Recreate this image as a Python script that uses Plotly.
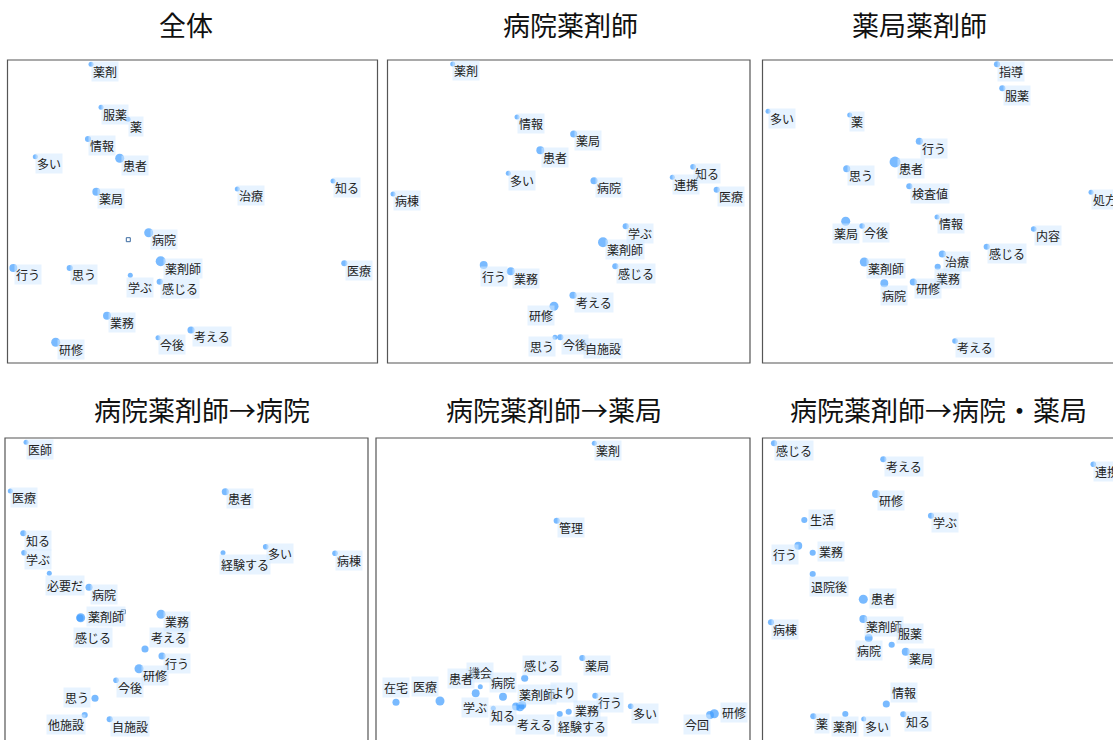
import plotly.graph_objects as go

FIG_W, FIG_H = 1113, 740

# ---------------- data ----------------
titles = ["全体", "病院薬剤師", "薬局薬剤師",
          "病院薬剤師→病院", "病院薬剤師→薬局", "病院薬剤師→病院・薬局"]

# Panel 1: 全体
words1 = ["薬剤", "服薬", "薬", "情報", "多い", "患者", "薬局", "治療", "知る", "病院",
          "薬剤師", "医療", "行う", "思う", "学ぶ", "感じる", "業務", "考える", "今後", "研修"]
x1 = [83.5, 93.5, 120.5, 80.5, 27.8, 112.2, 88.8, 229.8, 325.5, 141.2,
      153.2, 336.8, 5.8, 62.2, 122.8, 152.2, 99.5, 183.5, 150.5, 48.2]
y1 = [298.7, 255.7, 243.7, 224.0, 206.3, 204.7, 171.3, 174.0, 182.0, 130.3,
      101.7, 99.7, 95.0, 95.0, 87.7, 81.3, 47.3, 33.0, 25.3, 20.7]
freq1 = [4, 4, 4, 6, 4, 13, 10, 4, 4, 13, 16, 6, 10, 6, 4, 6, 10, 8, 4, 13]

# Panel 2: 病院薬剤師
words2 = ["薬剤", "情報", "薬局", "患者", "多い", "病院", "知る", "連携", "医療", "病棟",
          "学ぶ", "薬剤師", "感じる", "行う", "業務", "考える", "研修", "思う", "今後", "自施設"]
x2 = [65.2, 129.5, 186.2, 152.8, 120.8, 206.5, 305.5, 284.8, 329.2, 5.5,
      238.2, 215.5, 227.8, 96.2, 123.2, 185.5, 166.5, 167.5, 172.8, 195.5]
y2 = [299.0, 246.0, 229.0, 212.7, 189.7, 182.3, 196.3, 185.7, 173.3, 169.0,
      136.7, 120.7, 96.7, 98.0, 91.7, 67.7, 56.7, 25.7, 25.7, 21.3]
freq2 = [4, 4, 8, 10, 4, 8, 5, 4, 6, 4, 6, 16, 6, 10, 10, 8, 13, 4, 6, 4]

# Panel 3: 薬局薬剤師
words3 = ["指導", "服薬", "多い", "薬", "行う", "患者", "思う", "検査値", "処方", "情報",
          "内容", "薬局", "今後", "感じる", "治療", "薬剤師", "業務", "病院", "研修", "考える"]
x3 = [234.5, 239.8, 5.5, 87.2, 156.8, 132.5, 84.2, 146.8, 328.5, 174.5,
      271.2, 83.2, 99.5, 224.2, 179.8, 101.8, 175.2, 121.8, 150.8, 192.5]
y3 = [298.7, 274.7, 251.7, 248.0, 221.7, 201.0, 194.3, 176.7, 170.7, 146.0,
      134.0, 141.7, 137.0, 116.3, 109.0, 101.0, 96.3, 79.7, 81.0, 22.0]
freq3 = [6, 6, 4, 4, 8, 19, 8, 6, 4, 4, 5, 13, 5, 6, 8, 13, 6, 10, 8, 5]

# Panel 4: 病院薬剤師→病院
words4 = ["医師", "医療", "患者", "知る", "学ぶ", "経験する", "多い", "病棟", "必要だ", "病院",
          "感じる", "薬剤師", "業務", "考える", "行う", "研修", "今後", "思う", "他施設", "自施設"]
x4 = [21.0, 5.3, 220.3, 18.3, 19.0, 218.0, 260.7, 330.0, 44.3, 84.0,
      75.0, 75.7, 156.0, 140.0, 157.0, 134.0, 111.0, 90.0, 79.7, 104.7]
y4 = [297.7, 249.0, 248.3, 206.7, 187.3, 187.3, 193.3, 186.7, 166.7, 152.7,
      122.0, 122.3, 125.7, 91.0, 84.0, 71.3, 59.7, 41.7, 25.0, 20.7]
freq4 = [4, 4, 8, 6, 5, 4, 5, 5, 4, 8, 8, 13, 13, 8, 8, 13, 5, 8, 6, 6]

# Panel 5: 病院薬剤師→薬局
words5 = ["薬剤", "管理", "薬局", "感じる", "機会", "患者", "病院", "在宅", "医療", "知る",
          "薬剤師", "考える", "より", "学ぶ", "行う", "業務", "経験する", "多い", "研修", "今回"]
x5 = [218.3, 180.7, 206.3, 148.7, 104.3, 99.7, 127.0, 20.0, 64.0, 140.0,
      144.0, 146.3, 170.7, 117.3, 219.3, 192.7, 183.7, 254.7, 338.3, 334.0]
y5 = [296.7, 219.3, 82.0, 61.7, 53.3, 46.7, 43.3, 37.7, 39.0, 33.5,
      33.3, 35.0, 46.7, 31.7, 44.3, 28.3, 26.0, 33.7, 26.3, 25.0]
freq5 = [4, 6, 6, 8, 4, 10, 10, 8, 13, 10, 13, 10, 4, 4, 6, 6, 6, 5, 13, 10]

# Panel 6: 病院薬剤師→病院・薬局
words6 = ["感じる", "考える", "連携", "研修", "生活", "学ぶ", "行う", "業務", "退院後", "患者",
          "病棟", "薬剤師", "服薬", "病院", "薬局", "情報", "薬", "薬剤", "多い", "知る"]
x6 = [11.5, 120.8, 330.8, 113.5, 41.8, 168.5, 35.8, 50.2, 50.2, 100.8,
      8.5, 100.8, 129.2, 106.2, 143.2, 123.8, 50.8, 82.8, 101.2, 140.8]
y6 = [296.7, 280.7, 275.7, 246.0, 220.0, 224.3, 194.3, 187.3, 166.0, 140.7,
      117.7, 121.0, 95.3, 102.0, 88.3, 36.0, 23.7, 26.0, 21.0, 25.7]
freq6 = [6, 6, 5, 10, 6, 6, 10, 6, 6, 13, 6, 10, 6, 10, 10, 8, 6, 6, 4, 6]

# small hollow square marks (panels 1 and 4)
sq_panel = [1, 4]
sq_x = [120.8, 118.3]
sq_y = [123.3, 128.3]

# ---------------- label placement (style) ----------------
place_overrides = {
    1: {"学ぶ": "b"},
    2: {"行う": "b", "研修": "bl", "思う": "bl"},
    3: {"薬局": "bc", "業務": "b", "病院": "b"},
    4: {"経験する": "b", "必要だ": "b", "薬剤師": "r", "感じる": "bb",
        "考える": "ar", "思う": "l", "他施設": "bl"},
    5: {"感じる": "a", "機会": "ac", "患者": "al", "病院": "ac", "在宅": "ac",
        "医療": "al", "薬剤師": "a", "より": "r", "学ぶ": "l", "知る": "bl",
        "考える": "bb", "業務": "r", "経験する": "b", "研修": "r", "今回": "bl"},
    6: {"生活": "r", "行う": "bl", "業務": "r", "退院後": "b", "患者": "r",
        "服薬": "ar", "病院": "bc", "情報": "ar", "薬剤": "bc"},
}

SIZEREF = 0.32


def diam(f):
    return 2 * (f / 2 / SIZEREF) ** 0.5


def placement(code, d):
    if code == "br":
        return dict(xanchor="left", yanchor="top", xshift=0.45 * d - 2.5, yshift=3.5)
    if code == "r":
        return dict(xanchor="left", yanchor="middle", xshift=d / 2 + 1.0, yshift=1)
    if code == "b":
        return dict(xanchor="left", yanchor="top", xshift=-4, yshift=-1.5)
    if code == "bc":
        return dict(xanchor="center", yanchor="top", xshift=0, yshift=-1.5)
    if code == "bb":
        return dict(xanchor="left", yanchor="top", xshift=-7, yshift=-8.5)
    if code == "bl":
        return dict(xanchor="right", yanchor="top", xshift=1, yshift=1.5)
    if code == "l":
        return dict(xanchor="right", yanchor="middle", xshift=-4, yshift=1)
    if code == "a":
        return dict(xanchor="left", yanchor="bottom", xshift=-3, yshift=2)
    if code == "ac":
        return dict(xanchor="center", yanchor="bottom", xshift=0, yshift=4)
    if code == "al":
        return dict(xanchor="right", yanchor="bottom", xshift=-1, yshift=4)
    if code == "ar":
        return dict(xanchor="left", yanchor="bottom", xshift=4, yshift=1)
    return dict(xanchor="left", yanchor="top")


# ---------------- layout (pixel geometry) ----------------
# (left, top, right, bottom) pixel boxes of panels; some extend past the view
boxes = [
    (7.5, 60, 377.5, 363),
    (387.5, 60, 750, 363),
    (762.5, 60, 1140, 363),
    (5, 438, 368, 760),
    (376, 438, 750, 760),
    (762.5, 438, 1140, 760),
]
title_pos = [(185.5, 25), (570.5, 25), (919.5, 25),
             (201.5, 409), (553.5, 409), (938, 409)]

panels = [
    (words1, x1, y1, freq1),
    (words2, x2, y2, freq2),
    (words3, x3, y3, freq3),
    (words4, x4, y4, freq4),
    (words5, x5, y5, freq5),
    (words6, x6, y6, freq6),
]

MARKER_COLOR = "#409dff"
LABEL_BG = "rgba(212,233,255,0.55)"
FONT = "Noto Sans CJK JP"

fig = go.Figure()
annotations = []
shapes = []
layout_axes = {}

for i, (words, xs, ys, fr) in enumerate(panels):
    n = i + 1
    L, T, R, B = boxes[i]
    vis_r = min(R, FIG_W)
    vis_b = min(B, FIG_H)
    xdom = [L / FIG_W, vis_r / FIG_W]
    ydom = [(FIG_H - vis_b) / FIG_H, (FIG_H - T) / FIG_H]
    xname = "xaxis" if n == 1 else f"xaxis{n}"
    yname = "yaxis" if n == 1 else f"yaxis{n}"
    xr = "x" if n == 1 else f"x{n}"
    yr = "y" if n == 1 else f"y{n}"
    layout_axes[xname] = dict(domain=xdom, range=[0, vis_r - L], visible=False,
                              fixedrange=True, anchor=yr)
    # y data measured from the panel's bottom reference (363 for top row, 740 for bottom row)
    ybase = 363 if i < 3 else 740
    layout_axes[yname] = dict(domain=ydom, range=[ybase - vis_b, ybase - T], visible=False,
                              fixedrange=True, anchor=xr)

    fig.add_trace(go.Scatter(
        x=xs, y=ys, mode="markers", xaxis=xr, yaxis=yr,
        marker=dict(size=fr, sizemode="area", sizeref=SIZEREF, color=MARKER_COLOR,
                    line=dict(width=0)),
        text=words, hoverinfo="text", showlegend=False, cliponaxis=False,
    ))

    sx = [sq_x[k] for k in range(len(sq_panel)) if sq_panel[k] == n]
    sy = [sq_y[k] for k in range(len(sq_panel)) if sq_panel[k] == n]
    if sx:
        fig.add_trace(go.Scatter(
            x=sx, y=sy, mode="markers", xaxis=xr, yaxis=yr,
            marker=dict(symbol="square-open", size=4, color="#3b6aa0",
                        line=dict(width=1, color="#3b6aa0")),
            hoverinfo="skip", showlegend=False,
        ))

    ov = place_overrides.get(n, {})
    for w, xv, yv, f in zip(words, xs, ys, fr):
        p = placement(ov.get(w, "br"), diam(f))
        annotations.append(dict(
            x=xv, y=yv, xref=xr, yref=yr, text=w, showarrow=False,
            bgcolor=LABEL_BG, borderpad=1,
            font=dict(family=FONT, size=12, color="#222222"), **p,
        ))

    shapes.append(dict(type="rect", xref="paper", yref="paper",
                       x0=L / FIG_W, x1=R / FIG_W,
                       y0=(FIG_H - B) / FIG_H, y1=(FIG_H - T) / FIG_H,
                       line=dict(color="#555555", width=1.2), layer="below"))

    tx, ty = title_pos[i]
    annotations.append(dict(
        x=tx / FIG_W, y=(FIG_H - ty) / FIG_H, xref="paper", yref="paper",
        text=titles[i], showarrow=False, xanchor="center", yanchor="middle",
        font=dict(family=FONT, size=27, color="#111111"),
    ))

fig.update_layout(
    width=FIG_W, height=FIG_H,
    margin=dict(l=0, r=0, t=0, b=0),
    paper_bgcolor="white", plot_bgcolor="white",
    annotations=annotations, shapes=shapes,
    showlegend=False,
    **layout_axes,
)

fig.write_html("out.html")
